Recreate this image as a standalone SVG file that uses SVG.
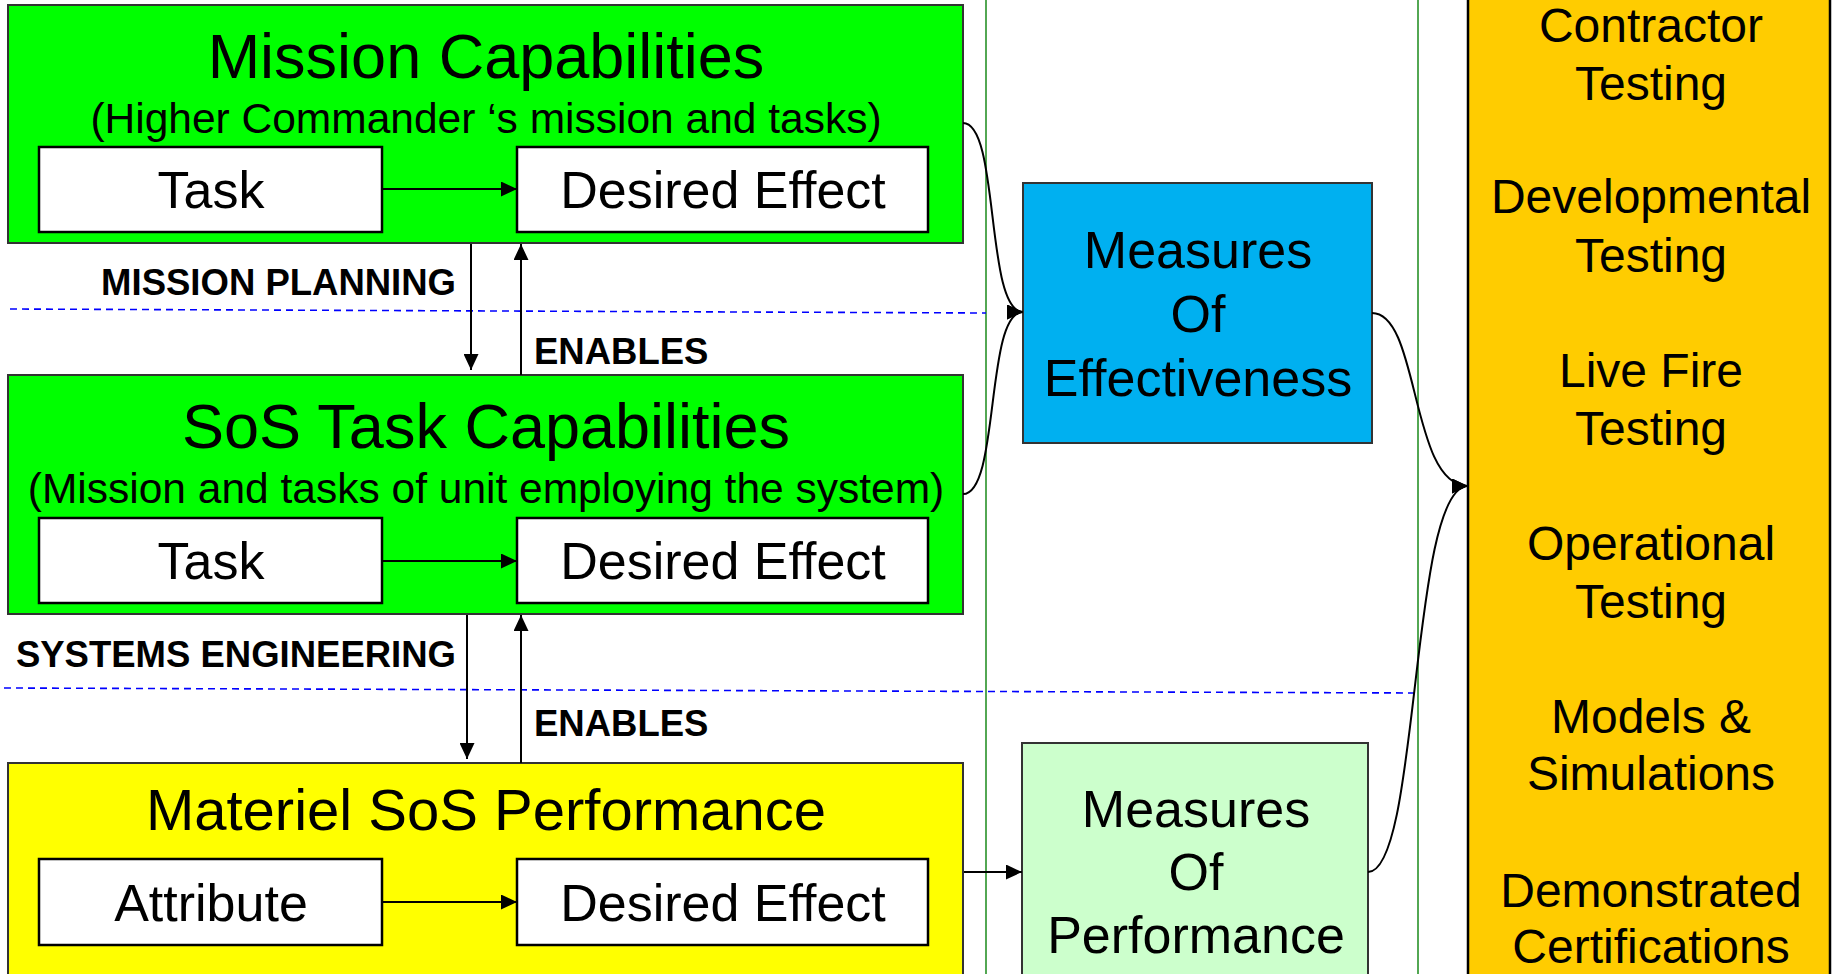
<svg xmlns="http://www.w3.org/2000/svg" width="1835" height="974" viewBox="0 0 1835 974">
<style>
text{font-family:"Liberation Sans",Arial,sans-serif;fill:#000}
.t{font-size:63px;text-anchor:middle}
.s{font-size:42.5px;text-anchor:middle}
.b{font-size:52px;text-anchor:middle}
.o{font-size:48px;text-anchor:middle}
.lbl{font-size:36.5px;font-weight:bold}
.outer{stroke:#333;stroke-width:2}
.inner{fill:#fff;stroke:#000;stroke-width:2.5}
.con{fill:none;stroke:#000;stroke-width:2}
.dash{fill:none;stroke:#0000ff;stroke-width:1.6;stroke-dasharray:7 5}
.vline{stroke:#1a8a1a;stroke-width:1.5}
</style>
<defs>
<marker id="ah" viewBox="0 0 16 15" refX="16" refY="7.5" markerWidth="16" markerHeight="15" markerUnits="userSpaceOnUse" orient="auto">
<path d="M0,0 L16,7.5 L0,15 Z" fill="#000"/>
</marker>
</defs>
<rect x="0" y="0" width="1835" height="974" fill="#fff"/>
<g id="guides">
<line class="vline" x1="986" y1="0" x2="986" y2="974"/>
<line class="vline" x1="1418" y1="0" x2="1418" y2="974"/>
<line class="dash" x1="10" y1="309" x2="986" y2="313"/>
<line class="dash" x1="4" y1="688" x2="1418" y2="693"/>
</g>
<g id="mission-capabilities">
<rect class="outer" x="8" y="5" width="955" height="238" fill="#00ff00"/>
<text class="t" x="486" y="78">Mission Capabilities</text>
<text class="s" x="486" y="133">(Higher Commander ‘s mission and tasks)</text>
<g id="mc-task"><rect class="inner" x="39" y="147" width="343" height="85"/><text class="b" x="211" y="208">Task</text></g>
<g id="mc-effect"><rect class="inner" x="517" y="147" width="411" height="85"/><text class="b" x="723" y="208">Desired Effect</text></g>
</g>
<g id="sos-task-capabilities">
<rect class="outer" x="8" y="375" width="955" height="239" fill="#00ff00"/>
<text class="t" x="486" y="448">SoS Task Capabilities</text>
<text class="s" x="486" y="503">(Mission and tasks of unit employing the system)</text>
<g id="sos-task"><rect class="inner" x="39" y="518" width="343" height="85"/><text class="b" x="211" y="579">Task</text></g>
<g id="sos-effect"><rect class="inner" x="517" y="518" width="411" height="85"/><text class="b" x="723" y="579">Desired Effect</text></g>
</g>
<g id="materiel-sos-performance">
<rect class="outer" x="8" y="763" width="955" height="230" fill="#ffff00"/>
<text class="b" x="486" y="830" style="font-size:58px">Materiel SoS Performance</text>
<g id="msp-attribute"><rect class="inner" x="39" y="859" width="343" height="86"/><text class="b" x="211" y="921">Attribute</text></g>
<g id="msp-effect"><rect class="inner" x="517" y="859" width="411" height="86"/><text class="b" x="723" y="921">Desired Effect</text></g>
</g>
<g id="moe">
<rect class="outer" x="1023" y="183" width="349" height="260" fill="#00b0f0"/>
<text class="b" x="1198" y="268">Measures</text>
<text class="b" x="1198" y="332">Of</text>
<text class="b" x="1198" y="396">Effectiveness</text>
</g>
<g id="mop">
<rect class="outer" x="1022" y="743" width="346" height="250" fill="#ccffcc"/>
<text class="b" x="1196" y="827">Measures</text>
<text class="b" x="1196" y="890">Of</text>
<text class="b" x="1196" y="953">Performance</text>
</g>
<g id="testing">
<rect x="1468" y="-5" width="362" height="990" fill="#ffcc00" stroke="#000" stroke-width="2.5"/>
<text class="o" x="1651" y="42">Contractor</text>
<text class="o" x="1651" y="100">Testing</text>
<text class="o" x="1651" y="213">Developmental</text>
<text class="o" x="1651" y="272">Testing</text>
<text class="o" x="1651" y="387">Live Fire</text>
<text class="o" x="1651" y="445">Testing</text>
<text class="o" x="1651" y="560">Operational</text>
<text class="o" x="1651" y="618">Testing</text>
<text class="o" x="1651" y="733">Models &amp;</text>
<text class="o" x="1651" y="790">Simulations</text>
<text class="o" x="1651" y="907">Demonstrated</text>
<text class="o" x="1651" y="963">Certifications</text>
</g>
<g id="labels">
<text class="lbl" x="456" y="295" text-anchor="end">MISSION PLANNING</text>
<text class="lbl" x="534" y="364">ENABLES</text>
<text class="lbl" x="456" y="667" text-anchor="end">SYSTEMS ENGINEERING</text>
<text class="lbl" x="534" y="736">ENABLES</text>
</g>
<g id="connectors">
<line class="con" x1="383" y1="189" x2="517" y2="189" marker-end="url(#ah)"/>
<line class="con" x1="383" y1="561" x2="517" y2="561" marker-end="url(#ah)"/>
<line class="con" x1="383" y1="902" x2="517" y2="902" marker-end="url(#ah)"/>
<line class="con" x1="471" y1="244" x2="471" y2="370" marker-end="url(#ah)"/>
<line class="con" x1="521" y1="375" x2="521" y2="244" marker-end="url(#ah)"/>
<line class="con" x1="467" y1="615" x2="467" y2="759" marker-end="url(#ah)"/>
<line class="con" x1="521" y1="763" x2="521" y2="615" marker-end="url(#ah)"/>
<line class="con" x1="964" y1="872" x2="1022" y2="872" marker-end="url(#ah)"/>
<path class="con" d="M963,123 C1000,123 985,312 1023,312" marker-end="url(#ah)"/>
<path class="con" d="M963,494 C1000,494 985,312 1023,312" marker-end="url(#ah)"/>
<path class="con" d="M1372,313 C1420,313 1410,486 1468,486" marker-end="url(#ah)"/>
<path class="con" d="M1368,872 C1420,872 1410,486 1468,486" marker-end="url(#ah)"/>
</g>
</svg>
